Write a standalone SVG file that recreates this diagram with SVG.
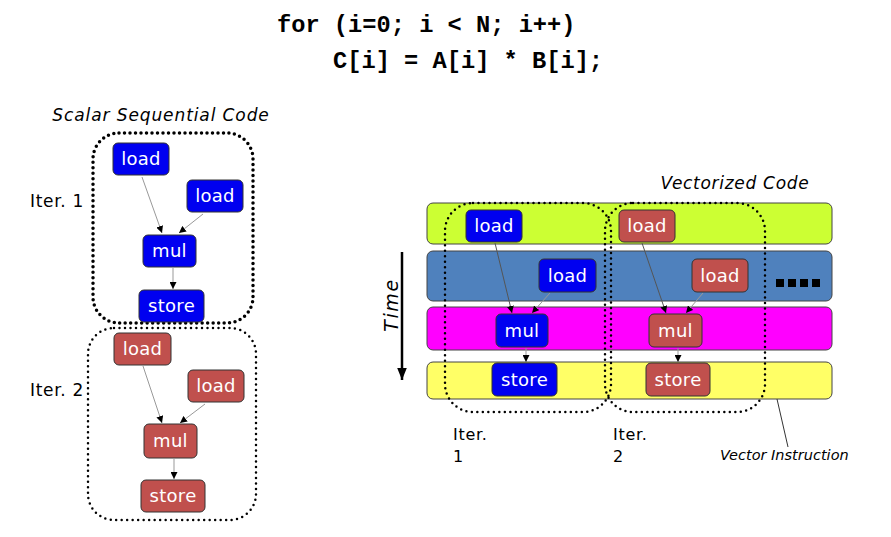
<svg xmlns="http://www.w3.org/2000/svg" width="891" height="537" viewBox="0 0 891 537">
<defs>
<style>
.code{font-family:"Liberation Mono",monospace;font-weight:bold;font-size:23.7px;fill:#000}
.lbl{font-family:"DejaVu Sans",Verdana,sans-serif;font-size:17px;letter-spacing:0.7px;fill:#000}
.ital{font-family:"DejaVu Sans",Verdana,sans-serif;font-style:italic;font-size:17px;letter-spacing:0.9px;fill:#000}
.nt{font-family:"DejaVu Sans",Verdana,sans-serif;font-size:18px;letter-spacing:0.3px;fill:#fff;text-anchor:middle}
.bn{fill:#0000f0;stroke:#333;stroke-width:1}
.rn{fill:#c0504d;stroke:#333;stroke-width:1}
.band{stroke:#444;stroke-width:1}
.dot{fill:none;stroke:#000;stroke-dasharray:0 5.5;stroke-linecap:round}
.edge{stroke:#999;stroke-width:1;fill:none;marker-end:url(#ah)}
.edge2{stroke:#555;stroke-width:1;fill:none;marker-end:url(#ah)}
</style>
<marker id="ah" viewBox="0 0 10 10" refX="10" refY="5" markerWidth="7" markerHeight="7" orient="auto" markerUnits="userSpaceOnUse">
<path d="M0,0 L10,5 L0,10 z" fill="#000"/>
</marker>
<marker id="ahBig" viewBox="0 0 10 10" refX="10" refY="5" markerWidth="12" markerHeight="12" orient="auto" markerUnits="userSpaceOnUse">
<path d="M0,1 L10,5 L0,9 z" fill="#000"/>
</marker>
</defs>
<rect width="891" height="537" fill="#fff"/>

<g id="code">
<text class="code" x="277" y="32" xml:space="preserve">for (i=0; i &lt; N; i++)</text>
<text class="code" x="333" y="68" xml:space="preserve">C[i] = A[i] * B[i];</text>
</g>

<g id="scalar-title"><text class="ital" x="161" y="121" text-anchor="middle">Scalar Sequential Code</text></g>
<g id="iter1-label"><text class="lbl" x="30" y="207">Iter. 1</text></g>
<g id="iter2-label"><text class="lbl" x="30" y="396">Iter. 2</text></g>

<g id="iter1-box"><rect class="dot" x="93" y="133" width="160" height="190" rx="26" stroke-width="3.5"/></g>
<g id="iter2-box"><rect class="dot" x="88" y="328" width="168" height="192" rx="26" stroke-width="2.5"/></g>

<g id="band-green"><rect class="band" x="427" y="203" width="405" height="41" rx="6" fill="#ccff33"/></g>
<g id="band-blue"><rect class="band" x="427" y="251" width="405" height="50" rx="6" fill="#4f81bd"/></g>
<g id="band-magenta"><rect class="band" x="427" y="307" width="405" height="43" rx="6" fill="#ff00ff"/></g>
<g id="band-yellow"><rect class="band" x="427" y="362" width="405" height="37" rx="6" fill="#ffff66"/></g>

<g id="vec-iter1-box"><rect class="dot" x="445" y="203" width="166" height="209" rx="28" stroke-width="2.5"/></g>
<g id="vec-iter2-box"><rect class="dot" x="605" y="203" width="160" height="209" rx="28" stroke-width="2.5"/></g>

<g id="connectors">
<line class="edge" x1="142" y1="177" x2="162" y2="233"/>
<line class="edge" x1="203" y1="214" x2="179" y2="233"/>
<line class="edge" x1="173" y1="268" x2="173" y2="289"/>
<line class="edge" x1="143" y1="366" x2="162" y2="423"/>
<line class="edge" x1="205" y1="404" x2="180" y2="423"/>
<line class="edge" x1="174" y1="459" x2="174" y2="479"/>
<line class="edge2" x1="495" y1="243" x2="512" y2="313"/>
<line class="edge" x1="550" y1="293" x2="532" y2="313"/>
<line class="edge" x1="526" y1="348" x2="526" y2="362"/>
<line class="edge2" x1="642" y1="243" x2="666" y2="313"/>
<line class="edge" x1="703" y1="293" x2="686" y2="313"/>
<line class="edge" x1="678" y1="348" x2="678" y2="362"/>
<line x1="402" y1="252" x2="402" y2="380" stroke="#000" stroke-width="2.5" marker-end="url(#ahBig)"/>
<line x1="777" y1="399" x2="788" y2="447" stroke="#333" stroke-width="1"/>
</g>

<g id="s1-load-a"><rect class="bn" x="113" y="143" width="56" height="32" rx="5"/><text class="nt" x="141" y="165">load</text></g>
<g id="s1-load-b"><rect class="bn" x="187" y="180" width="56" height="32" rx="5"/><text class="nt" x="215" y="202">load</text></g>
<g id="s1-mul"><rect class="bn" x="143" y="235" width="53" height="32" rx="5"/><text class="nt" x="169.5" y="257">mul</text></g>
<g id="s1-store"><rect class="bn" x="139" y="290" width="65" height="32" rx="5"/><text class="nt" x="171.5" y="312">store</text></g>

<g id="s2-load-a"><rect class="rn" x="114" y="333" width="57" height="32" rx="5"/><text class="nt" x="142.5" y="355">load</text></g>
<g id="s2-load-b"><rect class="rn" x="188" y="370" width="56" height="32" rx="5"/><text class="nt" x="216" y="392">load</text></g>
<g id="s2-mul"><rect class="rn" x="144" y="424" width="53" height="34" rx="5"/><text class="nt" x="170.5" y="447">mul</text></g>
<g id="s2-store"><rect class="rn" x="141" y="480" width="64" height="32" rx="5"/><text class="nt" x="173" y="502">store</text></g>

<g id="v1-load-a"><rect class="bn" x="466" y="210" width="56" height="32" rx="5"/><text class="nt" x="494" y="232">load</text></g>
<g id="v1-load-b"><rect class="bn" x="539" y="259" width="57" height="33" rx="5"/><text class="nt" x="567.5" y="282">load</text></g>
<g id="v1-mul"><rect class="bn" x="496" y="314" width="52" height="33" rx="5"/><text class="nt" x="522" y="337">mul</text></g>
<g id="v1-store"><rect class="bn" x="492" y="363" width="65" height="33" rx="5"/><text class="nt" x="524.5" y="386">store</text></g>

<g id="v2-load-a"><rect class="rn" x="619" y="210" width="56" height="32" rx="5"/><text class="nt" x="647" y="232">load</text></g>
<g id="v2-load-b"><rect class="rn" x="692" y="259" width="56" height="33" rx="5"/><text class="nt" x="720" y="282">load</text></g>
<g id="v2-mul"><rect class="rn" x="649" y="314" width="53" height="33" rx="5"/><text class="nt" x="675.5" y="337">mul</text></g>
<g id="v2-store"><rect class="rn" x="646" y="363" width="64" height="33" rx="5"/><text class="nt" x="678" y="386">store</text></g>

<g id="ellipsis" fill="#000">
<rect x="776" y="279" width="8" height="8"/><rect x="788" y="279" width="8" height="8"/><rect x="800" y="279" width="8" height="8"/><rect x="812" y="279" width="8" height="8"/>
</g>

<g id="vec-title"><text class="ital" x="735" y="189" text-anchor="middle" style="letter-spacing:0.7px">Vectorized Code</text></g>
<g id="time-label"><text class="ital" x="0" y="0" text-anchor="middle" style="font-size:19px;letter-spacing:1.6px" transform="translate(398,305) rotate(-90)">Time</text></g>
<g id="vec-iter-labels">
<text class="lbl" x="453" y="440" style="font-size:16px">Iter.</text><text class="lbl" x="453" y="462" style="font-size:16px">1</text>
<text class="lbl" x="613" y="440" style="font-size:16px">Iter.</text><text class="lbl" x="613" y="462" style="font-size:16px">2</text>
</g>
<g id="vec-instr-label"><text class="ital" x="720" y="460" style="font-size:14.5px;letter-spacing:0">Vector Instruction</text></g>
</svg>
